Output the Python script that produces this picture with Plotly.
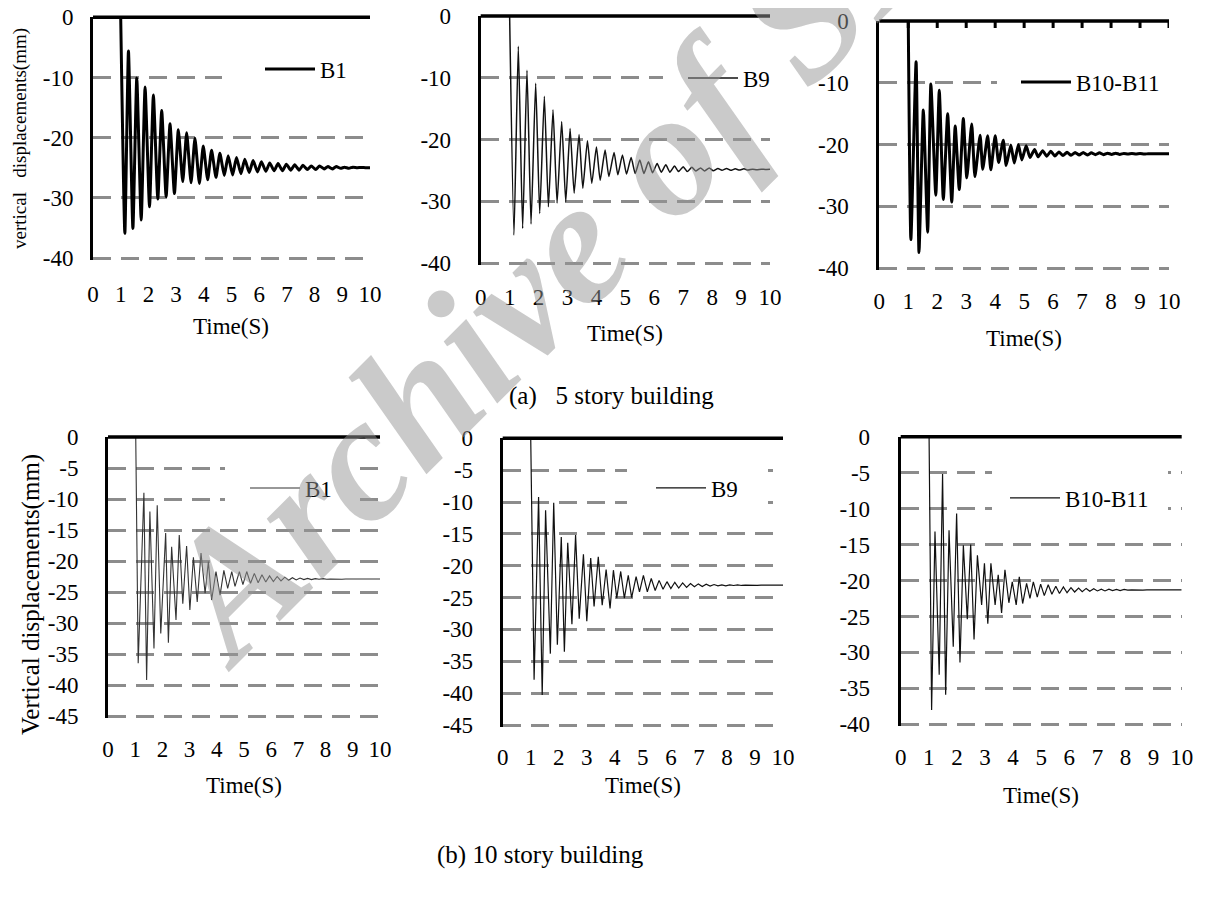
import plotly.graph_objects as go

W, H = 1207, 897
PAGE_OFFSET = 8  # default page margin around the figure
SERIF = "Liberation Serif, Times New Roman, serif"

# ---------------- data: (a) 5 story building ----------------
time_a_b1 = [1.0, 1.15, 1.28, 1.44, 1.58, 1.74, 1.88, 2.04, 2.18, 2.34, 2.48, 2.64, 2.78, 2.94, 3.08,
             3.24, 3.38, 3.54, 3.68, 3.84, 3.98, 4.14, 4.28, 4.44, 4.58, 4.74, 4.88, 5.04, 5.18, 5.34,
             5.48, 5.64, 5.78, 5.94, 6.08, 6.24, 6.38, 6.54, 6.68, 6.84, 6.98, 7.14, 7.28, 7.44, 7.58,
             7.74, 7.88, 8.04, 8.18, 8.34, 8.48, 8.64, 8.78, 8.94, 9.08, 9.24, 9.38, 9.54, 9.68, 9.84, 10.0]
disp_a_b1 = [0, -35.9, -5.6, -35.1, -10.1, -33.7, -11.6, -31.5, -12.9, -30.2, -15.5,
             -29.8, -17.7, -29.3, -18.7, -27.3, -19.2, -27.5, -20.1, -27.6, -21.4,
             -27.0, -22.1, -26.6, -22.6, -26.3, -23.0, -26.2, -23.3, -26.0, -23.6,
             -25.8, -23.8, -25.7, -24.0, -25.6, -24.2, -25.5, -24.3, -25.5, -24.4,
             -25.4, -24.5, -25.4, -24.6, -25.3, -24.7, -25.3, -24.7, -25.2, -24.8,
             -25.2, -24.8, -25.1, -24.9, -25.1, -24.9, -25.0, -24.95, -25.0, -25.0]

time_a_b9 = [1.0, 1.15, 1.30, 1.45, 1.60, 1.74, 1.90, 2.04, 2.20, 2.34, 2.50, 2.64, 2.80, 2.94, 3.09,
             3.23, 3.40, 3.53, 3.69, 3.84, 4.00, 4.13, 4.30, 4.43, 4.61, 4.74, 4.90, 5.04, 5.20, 5.34,
             5.50, 5.64, 5.80, 5.94, 6.10, 6.24, 6.40, 6.54, 6.70, 6.84, 7.00, 7.14, 7.30, 7.44, 7.60,
             7.74, 7.90, 8.04, 8.20, 8.34, 8.50, 8.64, 8.80, 8.94, 9.10, 9.24, 9.40, 9.54, 9.70, 9.84, 10.0]
disp_a_b9 = [0, -35.5, -4.9, -34.4, -8.8, -33.7, -10.9, -32.0, -13.0, -30.9, -15.2,
             -30.3, -17.1, -30.1, -18.2, -28.7, -19.2, -27.9, -20.2, -27.1, -21.2,
             -26.6, -21.7, -26.0, -22.1, -25.7, -22.5, -25.6, -22.9, -25.5, -23.3,
             -25.5, -23.6, -25.4, -23.9, -25.3, -24.1, -25.3, -24.3, -25.2, -24.4,
             -25.2, -24.5, -25.1, -24.6, -25.1, -24.6, -25.05, -24.7, -25.0, -24.7,
             -25.0, -24.75, -24.95, -24.75, -24.95, -24.8, -24.9, -24.8, -24.85, -24.8]

time_a_b1011 = [1.0, 1.09, 1.27, 1.37, 1.52, 1.67, 1.78, 1.95, 2.07, 2.21, 2.36, 2.50, 2.62, 2.76,
                2.90, 3.02, 3.19, 3.30, 3.48, 3.57, 3.74, 3.85, 4.00, 4.12, 4.28, 4.38, 4.54, 4.66,
                4.80, 4.92, 5.07, 5.20, 5.36, 5.48, 5.64, 5.78, 5.92, 6.06, 6.20, 6.34, 6.48, 6.62,
                6.76, 6.90, 7.04, 7.18, 7.32, 7.46, 7.60, 7.74, 7.88, 8.02, 8.16, 8.30, 8.44, 8.58,
                8.72, 8.86, 9.00, 9.14, 9.28, 9.42, 9.56, 9.70, 9.84, 10.0]
disp_a_b1011 = [0, -35.4, -6.6, -37.5, -14.4, -34.2, -10.2, -28.2, -11.2, -28.9, -15.0,
                -29.3, -17.0, -27.3, -15.8, -25.4, -16.7, -25.2, -18.5, -24.0, -18.6,
                -24.1, -18.6, -22.9, -19.3, -23.4, -20.1, -23.0, -20.0, -22.5, -20.2,
                -22.1, -20.8, -22.0, -21.0, -21.9, -21.1, -21.85, -21.2, -21.8, -21.25,
                -21.75, -21.3, -21.7, -21.3, -21.7, -21.35, -21.65, -21.35, -21.65, -21.4,
                -21.6, -21.4, -21.6, -21.45, -21.55, -21.45, -21.55, -21.45, -21.55, -21.5,
                -21.5, -21.5, -21.5, -21.5, -21.5]

# ---------------- data: (b) 10 story building ----------------
time_b_b1 = [1.02, 1.11, 1.32, 1.42, 1.54, 1.69, 1.81, 1.94, 2.12, 2.22, 2.34, 2.50, 2.62, 2.75,
             2.89, 3.01, 3.14, 3.28, 3.42, 3.57, 3.69, 3.81, 3.97, 4.12, 4.26, 4.40, 4.55, 4.67,
             4.83, 4.96, 5.10, 5.24, 5.38, 5.52, 5.66, 5.80, 5.94, 6.08, 6.22, 6.36, 6.50, 6.64,
             6.78, 6.92, 7.06, 7.20, 7.34, 7.48, 7.62, 7.76, 7.90, 8.04, 8.18, 8.32, 8.46, 8.60,
             8.74, 8.88, 9.02, 9.16, 9.30, 9.44, 9.58, 9.72, 9.86, 10.0]
disp_b_b1 = [0, -36.5, -9.0, -39.2, -12.0, -34.1, -11.0, -31.7, -15.5, -33.2, -17.7,
             -29.5, -15.8, -26.9, -17.6, -27.9, -19.4, -26.6, -18.7, -25.2, -20.1,
             -26.3, -21.7, -25.5, -21.5, -24.4, -21.7, -24.1, -21.7, -23.8, -21.7,
             -23.6, -22.0, -23.5, -22.2, -23.4, -22.4, -23.3, -22.5, -23.2, -22.6,
             -23.1, -22.7, -23.05, -22.75, -23.0, -22.8, -23.0, -22.85, -22.95, -22.85,
             -22.95, -22.9, -22.95, -22.9, -22.95, -22.9, -22.95, -22.9, -22.9, -22.9,
             -22.9, -22.9, -22.9, -22.9, -22.9]

time_b_b9 = [1.0, 1.12, 1.28, 1.41, 1.53, 1.70, 1.82, 1.95, 2.09, 2.20, 2.32, 2.47, 2.60, 2.73,
             2.88, 3.00, 3.14, 3.26, 3.41, 3.55, 3.69, 3.83, 3.95, 4.07, 4.21, 4.34, 4.48, 4.60,
             4.76, 4.88, 5.02, 5.16, 5.30, 5.44, 5.58, 5.72, 5.86, 6.00, 6.14, 6.28, 6.42, 6.56,
             6.70, 6.84, 6.98, 7.12, 7.26, 7.40, 7.54, 7.68, 7.82, 7.96, 8.10, 8.24, 8.38, 8.52,
             8.66, 8.80, 8.94, 9.08, 9.22, 9.36, 9.50, 9.64, 9.78, 10.0]
disp_b_b9 = [0, -37.9, -9.2, -40.3, -11.3, -33.8, -10.1, -32.4, -15.5, -33.5, -16.4,
             -29.2, -15.2, -28.3, -18.2, -28.7, -18.8, -26.4, -18.6, -26.2, -20.6,
             -26.7, -20.7, -25.1, -20.9, -25.1, -21.5, -25.0, -21.7, -24.1, -21.5,
             -24.1, -22.0, -23.9, -22.3, -23.7, -22.5, -23.6, -22.6, -23.5, -22.7,
             -23.4, -22.8, -23.3, -22.85, -23.25, -22.9, -23.2, -22.95, -23.15, -23.0,
             -23.15, -23.0, -23.1, -23.0, -23.1, -23.05, -23.1, -23.05, -23.1, -23.05,
             -23.05, -23.05, -23.05, -23.05, -23.05]

time_b_b1011 = [1.01, 1.10, 1.22, 1.37, 1.49, 1.60, 1.72, 1.87, 1.99, 2.11, 2.23, 2.37, 2.49,
                2.61, 2.73, 2.88, 2.98, 3.10, 3.21, 3.36, 3.47, 3.59, 3.71, 3.85, 3.97, 4.11, 4.22,
                4.34, 4.48, 4.60, 4.72, 4.86, 4.98, 5.11, 5.25, 5.38, 5.52, 5.65, 5.79, 5.92, 6.06,
                6.19, 6.33, 6.46, 6.60, 6.73, 6.87, 7.00, 7.14, 7.27, 7.41, 7.54, 7.68, 7.81, 7.95,
                8.08, 8.22, 8.35, 8.49, 8.62, 8.76, 8.89, 9.03, 9.16, 9.30, 9.43, 9.57, 9.70, 9.84, 10.0]
disp_b_b1011 = [0, -38.0, -13.2, -33.1, -5.2, -35.9, -13.0, -29.2, -10.7, -31.4, -15.1,
                -25.4, -15.0, -28.2, -16.5, -23.4, -17.6, -26.0, -17.6, -23.4, -19.2,
                -24.5, -18.5, -23.1, -20.2, -23.4, -19.5, -23.2, -20.4, -22.5, -20.2,
                -22.3, -20.5, -22.1, -20.6, -21.9, -20.8, -21.8, -20.9, -21.7, -21.0,
                -21.6, -21.05, -21.55, -21.1, -21.5, -21.15, -21.45, -21.2, -21.45, -21.2,
                -21.4, -21.25, -21.4, -21.25, -21.35, -21.3, -21.35, -21.3, -21.35, -21.3,
                -21.3, -21.3, -21.3, -21.3, -21.3, -21.3, -21.3, -21.3, -21.3]

# ---------------- tick labels ----------------
x_ticks = list(range(0, 11))
x_tick_text = [str(v) for v in x_ticks]
y_ticks_a = [0, -10, -20, -30, -40]
y_ticks_b45 = [0, -5, -10, -15, -20, -25, -30, -35, -40, -45]
y_ticks_b40 = [0, -5, -10, -15, -20, -25, -30, -35, -40]

series_names = ["B1", "B9", "B10-B11", "B1", "B9", "B10-B11"]
captions = ["(a)\u00a0\u00a0\u00a05 story building", "(b) 10 story building"]


def px_x(p):
    return (p - PAGE_OFFSET) / W


def px_y(p):
    return 1 - (p - PAGE_OFFSET) / H


# panel geometry in screen pixels: left, right, top, bottom
panels = [
    dict(t=time_a_b1, v=disp_a_b1, box=(93, 370, 17.3, 258), ymin=-40, yt=y_ticks_a, lw=3.0,
         color="#000000", shape="spline", leg=(260, 69), mask=(222, 372, 62, 92), ystand=12,
         xstand=20, xlab_y=326, topticks=False),
    dict(t=time_a_b9, v=disp_a_b9, box=(480.7, 770, 16, 263), ymin=-40, yt=y_ticks_a, lw=1.5,
         color="#111111", shape="spline", leg=(683, 78), mask=(663, 772, 62, 92), ystand=22,
         xstand=18, xlab_y=333, topticks=False),
    dict(t=time_a_b1011, v=disp_a_b1011, box=(879.3, 1169, 21, 268), ymin=-40, yt=y_ticks_a, lw=3.0,
         color="#000000", shape="spline", leg=(1016, 82), mask=(997, 1171, 68, 96), ystand=23,
         xstand=17, xlab_y=338, topticks=True),
    dict(t=time_b_b1, v=disp_b_b1, box=(108, 380, 437, 716), ymin=-45, yt=y_ticks_b45, lw=1.1,
         color="#333333", shape="linear", leg=(245, 488), mask=(225, 355, 458, 510), ystand=22,
         xstand=17, xlab_y=785, topticks=False),
    dict(t=time_b_b9, v=disp_b_b9, box=(502.7, 783, 438.3, 725), ymin=-45, yt=y_ticks_b45, lw=1.2,
         color="#111111", shape="linear", leg=(651, 488), mask=(627, 768, 460, 512), ystand=22,
         xstand=16, xlab_y=785, topticks=False),
    dict(t=time_b_b1011, v=disp_b_b1011, box=(900.7, 1181.7, 436.7, 724.3), ymin=-40, yt=y_ticks_b40,
         lw=1.2, color="#111111", shape="linear", leg=(1005, 498), mask=(992, 1168, 460, 518),
         ystand=23, xstand=17, xlab_y=795, topticks=False),
]

fig = go.Figure()
layout = dict(
    width=W, height=H, autosize=False,
    margin=dict(l=0, r=0, t=0, b=0, autoexpand=False),
    paper_bgcolor="white", plot_bgcolor="white",
    showlegend=True,
)
shapes = []
annotations = []
tickfont = dict(family=SERIF, size=23, color="black")
BOTTOM_PAD = 2  # px of room below the lowest gridline so it is drawn

for i, p in enumerate(panels, start=1):
    sx = "" if i == 1 else str(i)
    l, r, top, bot = p["box"]
    ppu = (bot - top) / (-p["ymin"])
    y_lo = p["ymin"] - BOTTOM_PAD / ppu
    bot_d = bot + BOTTOM_PAD
    line = dict(color=p["color"], width=p["lw"], shape=p["shape"])
    if p["shape"] == "spline":
        line["smoothing"] = 0.5
    fig.add_trace(go.Scatter(
        x=p["t"], y=p["v"], mode="lines", name=series_names[i - 1], line=line,
        xaxis="x" + sx, yaxis="y" + sx, legend="legend" + sx, showlegend=True,
        hoverinfo="skip",
    ))
    layout["xaxis" + sx] = dict(
        domain=[px_x(l), px_x(r)], range=[0, 10], anchor="y" + sx,
        tickmode="array", tickvals=x_ticks, ticktext=x_tick_text,
        showgrid=False, zeroline=False, showline=False, ticks="", automargin=False,
        ticklabelstandoff=int(p["xstand"] - BOTTOM_PAD), ticklabeloverflow="allow",
        tickfont=tickfont, fixedrange=True,
    )
    layout["yaxis" + sx] = dict(
        domain=[px_y(bot_d), px_y(top)], range=[y_lo, 0], anchor="x" + sx,
        tickmode="array", tickvals=p["yt"], ticktext=[str(v) for v in p["yt"]],
        showgrid=True, gridcolor="#8c8c8c", gridwidth=2.5, griddash="18px,10px",
        zeroline=False, showline=True, linewidth=3, linecolor="black", ticks="", automargin=False,
        ticklabelstandoff=int(p["ystand"]), ticklabeloverflow="allow", tickfont=tickfont,
        fixedrange=True,
    )
    # legend box area hides the dashed gridlines behind it
    mx0, mx1, my0, my1 = p["mask"]
    shapes.append(dict(
        type="rect", xref="paper", yref="paper",
        x0=px_x(mx0), x1=px_x(mx1), y0=px_y(my1), y1=px_y(my0),
        fillcolor="white", line=dict(width=0), layer="above",
    ))
    # horizontal axis line drawn at the top (y = 0)
    shapes.append(dict(
        type="line", xref="x" + sx + " domain", yref="y" + sx + " domain",
        x0=0, x1=1, y0=1, y1=1, line=dict(color="black", width=3.5), layer="above",
    ))
    if p["topticks"]:
        tick_len = 7 / (bot_d - top)
        for xv in x_ticks[1:]:
            shapes.append(dict(
                type="line", xref="x" + sx, yref="y" + sx + " domain",
                x0=xv, x1=xv, y0=1, y1=1 - tick_len,
                line=dict(color="black", width=3), layer="above",
            ))
    lx, ly = p["leg"]
    layout["legend" + sx] = dict(
        x=px_x(lx), y=px_y(ly), xanchor="left", yanchor="middle",
        bgcolor="rgba(0,0,0,0)", borderwidth=0, itemwidth=50,
        font=dict(family=SERIF, size=23, color="black"),
        itemclick=False, itemdoubleclick=False,
    )
    annotations.append(dict(
        text="Time(S)", x=px_x((l + r) / 2), y=px_y(p["xlab_y"]), xref="paper", yref="paper",
        showarrow=False, xanchor="center", yanchor="middle",
        font=dict(family=SERIF, size=23, color="black"),
    ))

# y-axis titles
annotations.append(dict(
    text="vertical\u00a0\u00a0\u00a0displacements(mm)", x=px_x(20), y=px_y(139), xref="paper", yref="paper",
    showarrow=False, textangle=-90, xanchor="center", yanchor="middle",
    font=dict(family=SERIF, size=19, color="black"),
))
annotations.append(dict(
    text="Vertical displacements(mm)", x=px_x(31), y=px_y(595), xref="paper", yref="paper",
    showarrow=False, textangle=-90, xanchor="center", yanchor="middle",
    font=dict(family=SERIF, size=25, color="black"),
))
# captions
annotations.append(dict(
    text=captions[0], x=px_x(507), y=px_y(396), xref="paper", yref="paper",
    showarrow=False, xanchor="left", yanchor="middle",
    font=dict(family=SERIF, size=25, color="black"),
))
annotations.append(dict(
    text=captions[1], x=px_x(540), y=px_y(855), xref="paper", yref="paper",
    showarrow=False, xanchor="center", yanchor="middle",
    font=dict(family=SERIF, size=25, color="black"),
))
# watermark
annotations.append(dict(
    text="<b><i>Archive of SID</i></b>", x=px_x(581), y=px_y(235), xref="paper", yref="paper",
    showarrow=False, textangle=-45, xanchor="center", yanchor="middle",
    font=dict(family=SERIF, size=178, color="rgba(150,150,150,0.5)"),
))

layout["shapes"] = shapes
layout["annotations"] = annotations
fig.update_layout(**layout)

fig.write_html("out.html")
